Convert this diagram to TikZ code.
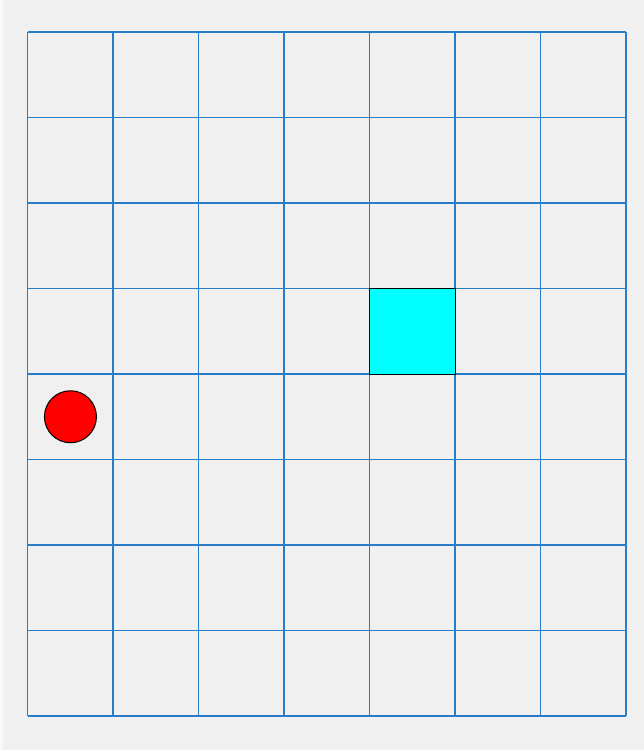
\documentclass[tikz,border=0pt]{standalone}
\begin{document}
\begin{tikzpicture}[x=1pt,y=-1pt]
\definecolor{bg}{HTML}{F0F0F0}
\definecolor{gridblue}{RGB}{40,125,200}
\definecolor{aqua}{RGB}{0,255,255}
\definecolor{agentred}{RGB}{255,0,0}
\tikzset{
  gridline/.style={draw=gridblue,line width=1.5pt},
  goalbox/.style={draw=black,fill=aqua,line width=1pt,minimum size=85.5pt,inner sep=0pt,outer sep=0pt},
  agent/.style={circle,draw=black,fill=agentred,line width=1pt,minimum size=52pt,inner sep=0pt}
}
\useasboundingbox (0,0) rectangle (644,750);
\fill[bg] (0,0) rectangle (644,750);
\fill[white!60!bg] (0,0) rectangle (3,750);
\def\gx{27.7}\def\gy{32}\def\cs{85.5}
\foreach \i in {0,...,7}{
  \draw[gridline] (\gx+\i*\cs,\gy) -- (\gx+\i*\cs,\gy+8*\cs);
}
\foreach \j in {0,...,8}{
  \draw[gridline] (\gx,\gy+\j*\cs) -- (\gx+7*\cs,\gy+\j*\cs);
}
\node[goalbox] (goal) at (\gx+4.5*\cs,\gy+3.5*\cs) {};
\node[agent] (agent) at (\gx+0.5*\cs,\gy+4.5*\cs) {};
\end{tikzpicture}
\end{document}
